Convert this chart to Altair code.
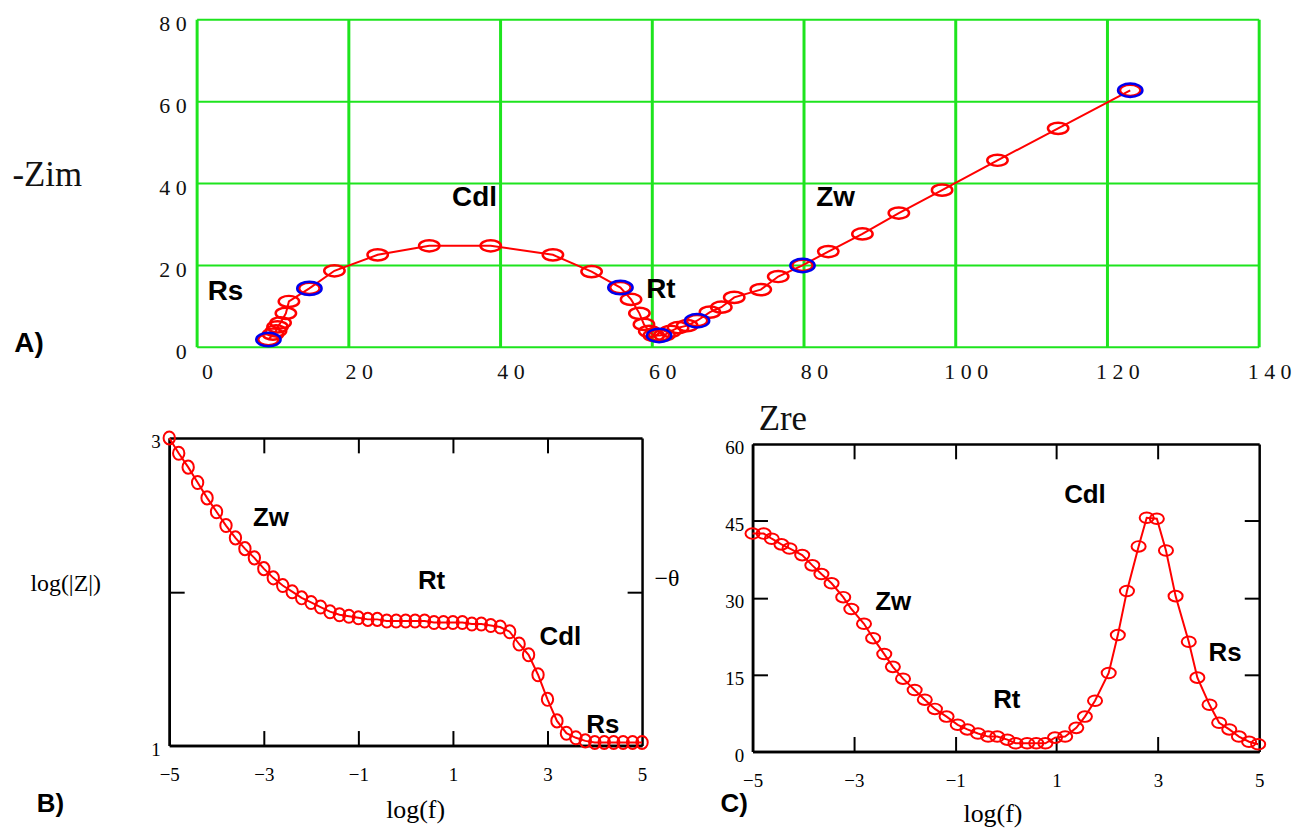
import altair as alt
import pandas as pd

# ---------------- data ----------------
# Panel A: Nyquist plot
A_ZRE = [9.4, 10.0, 10.4, 10.6, 11.0, 11.7, 12.1, 14.8, 18.1, 23.8, 30.6, 38.7, 46.9, 52.0,
         55.8, 57.2, 58.3, 58.9, 59.6, 60.2, 60.9, 61.6, 62.4, 63.4, 64.6, 65.9, 67.6, 69.1,
         70.8, 74.3, 76.6, 79.8, 83.2, 87.7, 92.5, 98.2, 105.5, 113.5, 123.0]
A_ZIM = [1.9, 3.2, 4.0, 5.0, 6.0, 8.3, 11.2, 14.4, 18.7, 22.6, 24.8, 24.8, 22.6, 18.5,
         14.6, 11.7, 8.3, 5.6, 3.9, 2.9, 2.9, 3.0, 3.9, 4.8, 5.3, 6.5, 8.6, 9.8,
         12.2, 14.1, 17.3, 20.0, 23.4, 27.7, 32.8, 38.4, 45.7, 53.5, 62.8]
A_BLUE_ZRE = [9.4, 14.8, 55.8, 60.9, 65.9, 79.8, 123.0]
A_BLUE_ZIM = [1.9, 14.4, 14.6, 2.9, 6.5, 20.0, 62.8]
A_XTICKS = [0, 20, 40, 60, 80, 100, 120, 140]
A_YTICKS = [0, 20, 40, 60, 80]
A_ANN_TEXT = ["Cdl", "Zw", "Rs", "Rt", "A)"]
A_ANN_ZRE = [33.6, 81.6, 1.4, 59.2, -24.1]
A_ANN_ZIM = [36.5, 36.5, 13.6, 14.1, 0.7]

# Panel B: log|Z| vs log f
B_LOGF = [-5.0, -4.8, -4.6, -4.4, -4.2, -4.0, -3.8, -3.6, -3.4, -3.2, -3.0, -2.8, -2.6, -2.4,
          -2.2, -2.0, -1.8, -1.6, -1.4, -1.2, -1.0, -0.8, -0.6, -0.4, -0.2, 0.0, 0.2, 0.4,
          0.6, 0.8, 1.0, 1.2, 1.4, 1.6, 1.8, 2.0, 2.2, 2.4, 2.6, 2.8, 3.0, 3.2, 3.4, 3.6,
          3.8, 4.0, 4.2, 4.4, 4.6, 4.8, 5.0]
B_LOGZ = [3.00, 2.90, 2.81, 2.71, 2.61, 2.52, 2.43, 2.35, 2.28, 2.22, 2.15, 2.09, 2.04, 2.00,
          1.96, 1.93, 1.90, 1.87, 1.85, 1.84, 1.83, 1.82, 1.82, 1.81, 1.81, 1.81, 1.81, 1.81,
          1.80, 1.80, 1.80, 1.80, 1.79, 1.79, 1.78, 1.77, 1.74, 1.66, 1.59, 1.46, 1.30, 1.16,
          1.08, 1.05, 1.03, 1.02, 1.02, 1.02, 1.02, 1.02, 1.02]
B_XLABELS = [-5, -3, -1, 1, 3, 5]
B_XTICKS = [-3, -1, 1, 3]
B_YLABELS = [1, 2, 3]
B_YTICKS = [2]
B_ANN_TEXT = ["Zw", "Rt", "Cdl", "Rs", "B)"]
B_ANN_LOGF = [-3.23, 0.26, 2.83, 3.82, -7.8]
B_ANN_VAL = [2.476, 2.07, 1.705, 1.136, 0.618]

# Panel C: -theta vs log f
C_LOGF = [-5.0, -4.78, -4.62, -4.43, -4.27, -4.02, -3.82, -3.64, -3.44, -3.21, -3.05, -2.80,
          -2.62, -2.40, -2.23, -2.03, -1.80, -1.60, -1.40, -1.17, -0.95, -0.76, -0.55, -0.35,
          -0.17, 0.03, 0.19, 0.42, 0.60, 0.78, 0.97, 1.17, 1.39, 1.56, 1.76, 2.03, 2.21, 2.39,
          2.62, 2.78, 2.98, 3.16, 3.35, 3.61, 3.78, 4.02, 4.21, 4.41, 4.60, 4.80, 4.98]
C_THETA = [42.5, 42.5, 41.5, 40.4, 39.6, 38.3, 36.3, 34.6, 32.8, 30.1, 27.8, 24.9,
           22.1, 19.0, 16.5, 14.2, 12.0, 10.1, 8.3, 6.8, 5.2, 4.3, 3.5, 2.9,
           2.9, 2.3, 1.6, 1.6, 1.6, 1.6, 2.7, 2.9, 4.6, 6.8, 9.9, 15.3, 22.7, 31.3,
           40.0, 45.6, 45.4, 39.2, 30.3, 21.4, 14.4, 9.1, 5.6, 4.3, 2.9, 1.9, 1.4]
C_XLABELS = [-5, -3, -1, 1, 3, 5]
C_XTICKS = [-3, -1, 1, 3]
C_YLABELS = [0, 15, 30, 45, 60]
C_YTICKS = [15, 30, 45]
C_ANN_TEXT = ["Zw", "Rt", "Cdl", "Rs", "C)"]
C_ANN_LOGF = [-2.58, -0.25, 1.15, 4.0, -5.63]
C_ANN_VAL = [29.1, 10.1, 50.0, 19.2, -10.3]

# ---------------- styling ----------------
GREEN = "#1ee41e"
RED = "#ff0000"
BLUE = "#0000ee"
SERIF = "Liberation Serif"
SANS = "Liberation Sans"


def ellipse(ry):
    k = 0.5523
    return (f"M 1 0 C 1 {k*ry:.4f} {k} {ry} 0 {ry} C {-k} {ry} -1 {k*ry:.4f} -1 0 "
            f"C -1 {-k*ry:.4f} {-k} {-ry} 0 {-ry} C {k} {-ry} 1 {-k*ry:.4f} 1 0 Z")


# spaced digits for panel A tick labels
SPACED = ("(datum.value >= 100 ? floor(datum.value / 100) + '  ' : '') + "
          "(datum.value >= 10 ? (floor(datum.value / 10) % 10) + '  ' : '') + "
          "(datum.value % 10)")

# ---------------- panel A ----------------
LEFT_PAD = 28              # panel A's plot starts 28px right of panel B's
PXU = 1067 / 140.0         # pixels per Zre unit
WA, HA = 1067 + LEFT_PAD, 329
dfA = pd.DataFrame({"zre": A_ZRE, "zim": A_ZIM, "i": list(range(len(A_ZRE)))})
dfAb = pd.DataFrame({"zre": A_BLUE_ZRE, "zim": A_BLUE_ZIM})
dfAann = pd.DataFrame({"zre": A_ANN_ZRE, "zim": A_ANN_ZIM, "t": A_ANN_TEXT})
dfAgx = pd.DataFrame({"v": A_XTICKS, "lo": [0] * len(A_XTICKS), "hi": [80] * len(A_XTICKS)})
dfAgy = pd.DataFrame({"v": A_YTICKS, "lo": [0] * len(A_YTICKS), "hi": [140] * len(A_YTICKS)})

sxA = alt.Scale(domain=[-LEFT_PAD / PXU, 140], nice=False, zero=False)
syA = alt.Scale(domain=[0, 80], nice=False, zero=False)

axA_x = alt.Axis(values=A_XTICKS, grid=False, ticks=False, domain=False, labelFont=SERIF,
                 labelFontSize=22, labelColor="#111", labelPadding=14, labelOffset=10,
                 labelOverlap=False, labelFlush=False, labelExpr=SPACED,
                 title="Zre", titleFont=SERIF, titleFontSize=35, titleFontWeight="normal",
                 titleColor="#111", titleX=784 - 168, titleY=72, titleAlign="center",
                 titleBaseline="middle")
axA_y = alt.Axis(values=A_YTICKS, grid=False, ticks=False, domain=False, offset=-LEFT_PAD,
                 labelFont=SERIF, labelFontSize=22, labelColor="#111", labelPadding=11,
                 labelOffset=4, labelOverlap=False, labelFlush=False, labelExpr=SPACED,
                 title="-Zim", titleFont=SERIF, titleFontSize=35, titleFontWeight="normal",
                 titleColor="#111", titleAngle=0, titleX=-186, titleY=155,
                 titleAlign="left", titleBaseline="middle")

lineA = alt.Chart(dfA).mark_line(color=RED, strokeWidth=2).encode(
    x=alt.X("zre:Q", scale=sxA, axis=axA_x),
    y=alt.Y("zim:Q", scale=syA, axis=axA_y),
    order="i:Q")
gridAx = alt.Chart(dfAgx).mark_rule(color=GREEN, strokeWidth=3).encode(
    x=alt.X("v:Q", scale=sxA, axis=None), y=alt.Y("lo:Q", scale=syA, axis=None), y2="hi:Q")
gridAy = alt.Chart(dfAgy).mark_rule(color=GREEN, strokeWidth=2).encode(
    y=alt.Y("v:Q", scale=syA, axis=None), x=alt.X("lo:Q", scale=sxA, axis=None), x2="hi:Q")
ptsA = alt.Chart(dfA).mark_point(shape=ellipse(0.55), size=420, filled=False,
                                 color=RED, strokeWidth=2.5, opacity=1).encode(
    x=alt.X("zre:Q", scale=sxA, axis=None), y=alt.Y("zim:Q", scale=syA, axis=None))
ptsAb = alt.Chart(dfAb).mark_point(shape=ellipse(0.55), size=600, filled=False,
                                   color=BLUE, strokeWidth=2.5, opacity=1).encode(
    x=alt.X("zre:Q", scale=sxA, axis=None), y=alt.Y("zim:Q", scale=syA, axis=None))
annA = alt.Chart(dfAann).mark_text(align="left", baseline="middle", font=SANS,
                                   fontWeight="bold", fontSize=28, color="black").encode(
    x=alt.X("zre:Q", scale=sxA, axis=None), y=alt.Y("zim:Q", scale=syA, axis=None),
    text="t:N")

chartA = alt.layer(gridAx, gridAy, lineA, ptsA, ptsAb, annA).resolve_axis(
    x="independent", y="independent").properties(
    width=WA, height=HA, view=alt.ViewBackground(stroke=None))


# ---------------- panels B & C ----------------
def panel(x, y, xdom, ydom, xlabels, xticks, ylabels, yticks, ann_x, ann_y, ann_t,
          W, H, top, ytitle, ytx, yty, xtx, xty, ell, ellsize):
    VH = H + top
    df = pd.DataFrame({"x": x, "y": y, "i": list(range(len(x)))})
    dfann = pd.DataFrame({"x": ann_x, "y": ann_y, "t": ann_t})
    sx = alt.Scale(domain=xdom, nice=False, zero=False)
    sy = alt.Scale(domain=ydom, nice=False, zero=False, range=[VH, top])
    dom = dict(domain=True, domainColor="black", domainWidth=2.5, grid=False)
    lab = dict(labelFont=SERIF, labelFontSize=19, labelColor="black", labelOverlap=False,
               labelFlush=False, ticks=False, **dom)
    ax_x = alt.Axis(values=xlabels, labelPadding=20, format="d", title="log(f)",
                    titleFont=SERIF, titleFontSize=26, titleFontWeight="normal",
                    titleColor="black", titleX=xtx, titleY=xty, titleAlign="center",
                    titleBaseline="middle", **lab)
    ax_y = alt.Axis(values=ylabels, labelPadding=9, labelOffset=4, format="d", title=ytitle,
                    titleFont=SERIF, titleFontSize=24, titleFontWeight="normal",
                    titleColor="black", titleAngle=0, titleX=ytx, titleY=yty + top,
                    titleAlign="left", titleBaseline="middle", **lab)
    tk = dict(labels=False, ticks=True, tickSize=15, tickWidth=2, tickColor="black",
              title=None, **dom)
    line = alt.Chart(df).mark_line(color=RED, strokeWidth=2).encode(
        x=alt.X("x:Q", scale=sx, axis=ax_x), y=alt.Y("y:Q", scale=sy, axis=ax_y),
        order="i:Q")
    pts = alt.Chart(df).mark_point(shape=ell, size=ellsize, filled=False, color=RED,
                                   strokeWidth=2, opacity=1).encode(
        x=alt.X("x:Q", scale=sx, axis=None), y=alt.Y("y:Q", scale=sy, axis=None))
    ann = alt.Chart(dfann).mark_text(align="left", baseline="middle", font=SANS,
                                     fontWeight="bold", fontSize=26, color="black").encode(
        x=alt.X("x:Q", scale=sx, axis=None), y=alt.Y("y:Q", scale=sy, axis=None),
        text="t:N")
    # inward ticks on the top edge and right edge
    t1 = alt.Chart(df).mark_point(opacity=0).encode(
        x=alt.X("x:Q", scale=sx, axis=alt.Axis(orient="bottom", offset=-H, values=xticks, **tk)),
        y=alt.Y("y:Q", scale=sy, axis=alt.Axis(orient="left", offset=-W, values=yticks, **tk)))
    # inward ticks on the bottom edge and left edge
    t2 = alt.Chart(df).mark_point(opacity=0).encode(
        x=alt.X("x:Q", scale=sx, axis=alt.Axis(orient="top", offset=-VH, values=xticks, **tk)),
        y=alt.Y("y:Q", scale=sy, axis=alt.Axis(orient="right", offset=-W, values=yticks, **tk)))
    return alt.layer(line, pts, ann, t1, t2).resolve_axis(
        x="independent", y="independent").properties(
        width=W, height=VH, view=alt.ViewBackground(stroke=None))


WB, HB = 475, 309
chartB = panel(B_LOGF, B_LOGZ, [-5, 5], [1, 3], B_XLABELS, B_XTICKS, B_YLABELS, B_YTICKS,
               B_ANN_LOGF, B_ANN_VAL, B_ANN_TEXT, WB, HB, 0, "log(|Z|)", -140, 146, 247, 64,
               ellipse(1.15), 130)

WC, HC = 509, 309
chartC = panel(C_LOGF, C_THETA, [-5, 5], [0, 60], C_XLABELS, C_XTICKS, C_YLABELS, C_YTICKS,
               C_ANN_LOGF, C_ANN_VAL, C_ANN_TEXT, WC, HC, 6, "\u2212\u03b8", -99, 135, 241, 62,
               ellipse(0.75), 200)

# ---------------- layout ----------------
row2 = alt.hconcat(chartB, chartC, spacing=111, bounds="flush")
chart = alt.vconcat(chartA, row2, spacing=91, bounds="flush").properties(
    padding={"left": 4, "top": 3, "right": 2, "bottom": 2}, background="white"
).configure_view(stroke=None)

chart.save("out.html", embed_options={"renderer": "svg", "actions": False})
